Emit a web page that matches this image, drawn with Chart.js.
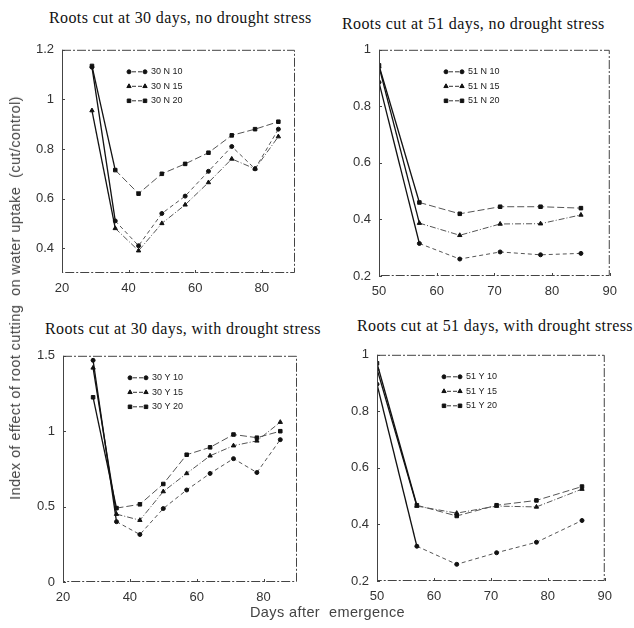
<!DOCTYPE html>
<html lang="en">
<head>
<meta charset="UTF-8">
<title>Effect of root cutting on water uptake</title>
<script src="https://cdn.jsdelivr.net/npm/chart.js"></script>
<style>
  body { margin: 0; background: #fff; }
  #page { position: relative; width: 634px; height: 628px; overflow: hidden; }
  canvas { position: absolute; }
  .title { position: absolute; font-family: 'Liberation Serif', serif; font-size: 16px; letter-spacing: 0.4px; color: #111; white-space: nowrap; line-height: 18px; }
  .axis { position: absolute; font-family: 'Liberation Sans', sans-serif; font-size: 14.5px; letter-spacing: 0.4px; color: #444; white-space: pre; line-height: 16px; }
</style>
</head>
<body>
<div id="page">
  <div class="title" style="left:49px; top:9px;">Roots cut at 30 days, no drought stress</div>
  <div class="title" style="left:342px; top:15px;">Roots cut at 51 days, no drought stress</div>
  <div class="title" style="left:45px; top:320px;">Roots cut at 30 days, with drought stress</div>
  <div class="title" style="left:357px; top:317px;">Roots cut at 51 days, with drought stress</div>

  <canvas id="n30" width="305" height="269" style="left:0px; top:34px;"></canvas>
  <canvas id="n51" width="310" height="272" style="left:315px; top:34px;"></canvas>
  <canvas id="y30" width="307" height="272" style="left:0px; top:340px;"></canvas>
  <canvas id="y51" width="305" height="272" style="left:315px; top:339px;"></canvas>

  <div class="axis" style="left:15px; top:298px; transform: translate(-50%, -50%) rotate(-90deg);">Index of effect of root cutting  on water uptake  (cut/control)</div>
  <div class="axis" style="left:250px; top:604px;">Days after  emergence</div>
</div>

<script>
    // days after emergence
    const days30 = [29, 36, 43, 50, 57, 64, 71, 78, 85];
    const days51 = [50, 57, 64, 71, 78, 85];
    const days51y = [50, 57, 64, 71, 78, 86];

    // roots cut at 30 days, no drought stress
    const n30_10 = [1.13, 0.51, 0.41, 0.54, 0.61, 0.71, 0.81, 0.72, 0.88];
    const n30_15 = [0.955, 0.48, 0.39, 0.50, 0.575, 0.665, 0.76, 0.72, 0.85];
    const n30_20 = [1.135, 0.715, 0.62, 0.70, 0.74, 0.785, 0.855, 0.88, 0.91];

    // roots cut at 51 days, no drought stress
    const n51_10 = [0.885, 0.315, 0.26, 0.285, 0.275, 0.28];
    const n51_15 = [0.94, 0.387, 0.344, 0.384, 0.385, 0.416];
    const n51_20 = [0.945, 0.46, 0.42, 0.445, 0.445, 0.44];

    // roots cut at 30 days, with drought stress
    const y30_10 = [1.47, 0.40, 0.315, 0.487, 0.61, 0.72, 0.818, 0.726, 0.944];
    const y30_15 = [1.42, 0.45, 0.41, 0.60, 0.72, 0.837, 0.904, 0.936, 1.06];
    const y30_20 = [1.225, 0.49, 0.515, 0.65, 0.844, 0.893, 0.978, 0.957, 1.0];

    // roots cut at 51 days, with drought stress
    const y51_10 = [0.896, 0.323, 0.259, 0.30, 0.337, 0.414];
    const y51_15 = [0.95, 0.465, 0.44, 0.465, 0.462, 0.525];
    const y51_20 = [0.97, 0.468, 0.43, 0.468, 0.485, 0.534];

    // tick labels
    const xTicks30 = [20, 40, 60, 80];
    const xTicks51 = [50, 60, 70, 80, 90];
    const yTicksN30 = [0.4, 0.6, 0.8, 1, 1.2];
    const yTicksN51 = [0.2, 0.4, 0.6, 0.8, 1];
    const yTicksY30 = [0, 0.5, 1, 1.5];
    const yTicksY51 = [0.2, 0.4, 0.6, 0.8, 1];

    const styles = [
        { point: 'circle', r: 2, dash: [4, 3] },
        { point: 'triangle', r: 2.5, dash: [6, 2, 1, 2] },
        { point: 'rect', r: 2.5, dash: [7, 3] }
    ];

    function series(days, vals, label, st) {
        return {
            label: label,
            data: days.map((d, i) => ({ x: d, y: vals[i] })),
            borderColor: '#333',
            borderWidth: 1,
            borderDash: st.dash,
            pointStyle: st.point,
            pointRadius: st.r,
            pointBackgroundColor: '#111',
            pointBorderColor: '#111',
            pointBorderWidth: 1,
            tension: 0,
            fill: false,
            segment: {
                borderDash: ctx => ctx.p0DataIndex === 0 ? [] : st.dash,
                borderColor: ctx => ctx.p0DataIndex === 0 ? '#111' : '#555',
                borderWidth: ctx => ctx.p0DataIndex === 0 ? 1.3 : 1
            }
        };
    }

    // frame round the plot area, small inward ticks
    const frame = {
        id: 'frame',
        afterDraw(chart) {
            const { ctx, chartArea: a, scales } = chart;
            ctx.save();
            ctx.strokeStyle = '#444';
            ctx.lineWidth = 1;
            ctx.beginPath();
            ctx.moveTo(a.left + 0.5, a.top);
            ctx.lineTo(a.left + 0.5, a.bottom);
            ctx.stroke();
            ctx.setLineDash([9, 2, 2, 2]);
            ctx.beginPath();
            ctx.moveTo(a.left, a.top + 0.5);
            ctx.lineTo(a.right - 0.5, a.top + 0.5);
            ctx.lineTo(a.right - 0.5, a.bottom - 0.5);
            ctx.lineTo(a.left, a.bottom - 0.5);
            ctx.stroke();
            ctx.setLineDash([]);
            ctx.beginPath();
            scales.y.ticks.forEach(t => {
                const p = Math.round(scales.y.getPixelForValue(t.value)) + 0.5;
                ctx.moveTo(a.left, p); ctx.lineTo(a.left + 3, p);
            });
            scales.x.ticks.forEach(t => {
                const p = Math.round(scales.x.getPixelForValue(t.value)) + 0.5;
                ctx.moveTo(p, a.bottom); ctx.lineTo(p, a.bottom - 3);
            });
            ctx.stroke();
            ctx.restore();
        }
    };

    // small legend drawn inside the plot area
    const inlineLegend = {
        id: 'inlineLegend',
        afterDatasetsDraw(chart, args, opts) {
            const { ctx, chartArea } = chart;
            ctx.save();
            ctx.font = '9px "Liberation Sans", sans-serif';
            ctx.textBaseline = 'middle';
            chart.data.datasets.forEach((ds, i) => {
                const y = chartArea.top + opts.y + i * opts.gap;
                const x0 = chartArea.left + opts.x;
                const x1 = x0 + 16;
                ctx.strokeStyle = '#333';
                ctx.lineWidth = 1;
                ctx.setLineDash([4, 2]);
                ctx.beginPath();
                ctx.moveTo(x0 + 3, y);
                ctx.lineTo(x1 - 3, y);
                ctx.stroke();
                ctx.setLineDash([]);
                ctx.fillStyle = '#111';
                ctx.strokeStyle = '#111';
                const po = { pointStyle: ds.pointStyle, radius: ds.pointRadius, borderWidth: 1, rotation: 0 };
                Chart.helpers.drawPoint(ctx, po, x0, y);
                Chart.helpers.drawPoint(ctx, po, x1, y);
                ctx.fillStyle = '#222';
                ctx.fillText(ds.label, x1 + 6, y);
            });
            ctx.restore();
        }
    };

    function makePanel(id, days, vals, labels, xMin, xMax, xTicks, yMin, yMax, yTicks, yWidth) {
        const tickFont = { family: '"Liberation Sans", sans-serif', size: 13 };
        return new Chart(document.getElementById(id), {
            type: 'line',
            data: {
                datasets: vals.map((v, i) => series(days, v, labels[i], styles[i]))
            },
            options: {
                responsive: false,
                animation: false,
                layout: { padding: { top: 10, right: 10, left: 0, bottom: 0 } },
                plugins: {
                    legend: { display: false },
                    tooltip: { enabled: false },
                    inlineLegend: { x: 67, y: 22, gap: 14.5 }
                },
                scales: {
                    x: {
                        type: 'linear', min: xMin, max: xMax,
                        grid: { display: false, drawTicks: false },
                        border: { display: false },
                        afterBuildTicks: s => { s.ticks = xTicks.map(v => ({ value: v })); },
                        afterFit: s => { s.height = 30; },
                        ticks: { color: '#333', font: tickFont, padding: 8, callback: v => String(v) }
                    },
                    y: {
                        min: yMin, max: yMax,
                        grid: { display: false, drawTicks: false },
                        border: { display: false },
                        afterBuildTicks: s => { s.ticks = yTicks.map(v => ({ value: v })); },
                        afterFit: s => { s.width = yWidth; },
                        ticks: { color: '#333', font: tickFont, padding: 8, callback: v => String(v) }
                    }
                }
            },
            plugins: [frame, inlineLegend]
        });
    }

    makePanel('n30', days30, [n30_10, n30_15, n30_20], ['30 N 10', '30 N 15', '30 N 20'],
        20, 90, xTicks30, 0.3, 1.2, yTicksN30, 62);
    makePanel('n51', days51, [n51_10, n51_15, n51_20], ['51 N 10', '51 N 15', '51 N 20'],
        50, 90, xTicks51, 0.2, 1, yTicksN51, 64);
    makePanel('y30', days30, [y30_10, y30_15, y30_20], ['30 Y 10', '30 Y 15', '30 Y 20'],
        20, 90, xTicks30, 0, 1.5, yTicksY30, 63);
    makePanel('y51', days51y, [y51_10, y51_15, y51_20], ['51 Y 10', '51 Y 15', '51 Y 20'],
        50, 90, xTicks51, 0.2, 1, yTicksY51, 62);
</script>
</body>
</html>
